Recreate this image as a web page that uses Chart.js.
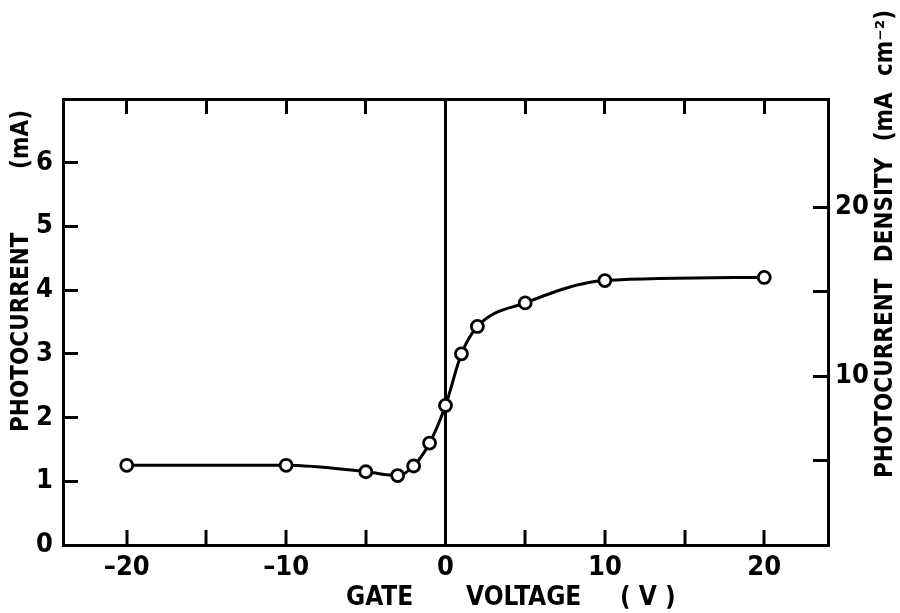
<!DOCTYPE html>
<html>
<head>
<meta charset="utf-8">
<script src="https://cdn.jsdelivr.net/npm/chart.js@4.4.1/dist/chart.umd.min.js"></script>
<style>
  body { margin: 0; background: #fff; }
  #box { width: 900px; height: 613px; }
</style>
</head>
<body>
<div id="box"><canvas id="photo_canvas" width="900" height="613"></canvas></div>
<script>
// data

const gateVoltage = [-20, -10, -5, -3, -2, -1, 0, 1, 2, 5, 10, 20];
const photocurrent = [1.25, 1.25, 1.15, 1.09, 1.24, 1.60, 2.19, 3.00, 3.43, 3.80, 4.15, 4.20];

const voltageTicks = [-20, -15, -10, -5, 0, 5, 10, 15, 20];
const voltageLabels = [-20, -10, 0, 10, 20];
const currentTicks = [0, 1, 2, 3, 4, 5, 6];
const densityTicks = [5, 10, 15, 20];
const densityLabels = [10, 20];

const fontFamily = "'Liberation Sans Narrow', 'DejaVu Sans Condensed', sans-serif";
const tickFont = { family: fontFamily, size: 27, weight: 'bold' };
const titleFont = "bold 24px " + fontFamily;
const bottomTitleFont = "bold 26px " + fontFamily;

function setTicks(list) {
  return function (axis) {
    axis.ticks = list.map(v => ({ value: v }));
  };
}

// inward tick marks, black border, no grid
function axisGrid(extra) {
  return Object.assign({
    drawOnChartArea: false,
    drawTicks: true,
    tickLength: -15,
    tickWidth: 3,
    tickColor: '#000',
    color: '#000',
    lineWidth: 3,
  }, extra || {});
}

const axisBorder = { display: true, color: '#000', width: 3 };

// text fitted to the width of the original lettering, extra room goes between words
function fittedText(ctx, text, cx, cy, width, angle) {
  ctx.save();
  ctx.translate(cx, cy);
  ctx.rotate(angle);
  ctx.wordSpacing = '0px';
  let w = ctx.measureText(text).width;
  let gaps = text.split(' ').length - 1;
  if (w < width && gaps > 0) {
    ctx.wordSpacing = ((width - w) / gaps) + 'px';
  }
  ctx.textAlign = 'left';
  ctx.fillText(text, -width / 2, 0, width);
  ctx.restore();
}

// axis titles placed like the original lettering
const titlePlugin = {
  id: 'titles',
  afterDraw(chart) {
    const ctx = chart.ctx;
    ctx.save();
    ctx.fillStyle = '#000';
    ctx.textBaseline = 'middle';

    // bottom title, word by word
    ctx.font = bottomTitleFont;
    ctx.textAlign = 'left';
    ctx.fillText('GATE', 346, 598);
    ctx.fillText('VOLTAGE', 466, 598);
    ctx.fillText('( V )', 620, 598);

    ctx.font = titleFont;
    fittedText(ctx, 'PHOTOCURRENT (mA)', 22, 271, 322, -Math.PI / 2);
    fittedText(ctx, 'PHOTOCURRENT DENSITY (mA cm\u207B\u00B2)', 886, 244, 468, -Math.PI / 2);

    ctx.restore();
  }
};

const photo_ctx = document.getElementById('photo_canvas').getContext('2d');
const photo_chart = new Chart(photo_ctx, {
  type: 'line',
  data: {
    datasets: [
      {
        data: gateVoltage.map((v, i) => ({ x: v, y: photocurrent[i] })),
        borderColor: '#000',
        borderWidth: 3,
        cubicInterpolationMode: 'monotone',
        fill: false,
        pointRadius: 6,
        pointBorderWidth: 2.8,
        pointBackgroundColor: '#fff',
        pointBorderColor: '#000',
        xAxisID: 'x',
        yAxisID: 'y',
      },
    ],
  },
  options: {
    responsive: false,
    animation: false,
    layout: { padding: 0 },
    plugins: {
      legend: { display: false },
      tooltip: { enabled: false },
    },
    scales: {
      x: {
        type: 'linear',
        position: 'bottom',
        min: -24,
        max: 24,
        afterBuildTicks: setTicks(voltageTicks),
        afterFit: s => { s.height = 68; },
        ticks: {
          color: '#000',
          font: tickFont,
          padding: 22,
          maxRotation: 0,
          autoSkip: false,
          callback: v => voltageLabels.includes(v) ? String(v).replace('-', '\u2013') : '',
        },
        grid: axisGrid({
          drawOnChartArea: true,
          color: ctx => ctx.tick && ctx.tick.value === 0 ? '#000' : 'rgba(0,0,0,0)',
          lineWidth: ctx => ctx.tick && ctx.tick.value === 0 ? 3 : 0,
        }),
        border: axisBorder,
      },
      x2: {
        type: 'linear',
        position: 'top',
        min: -24,
        max: 24,
        afterBuildTicks: setTicks(voltageTicks),
        afterFit: s => { s.height = 99; },
        ticks: { display: false },
        grid: axisGrid(),
        border: axisBorder,
      },
      y: {
        type: 'linear',
        position: 'left',
        min: 0,
        max: 7,
        afterBuildTicks: setTicks(currentTicks),
        afterFit: s => { s.width = 63; },
        ticks: {
          color: '#000',
          font: tickFont,
          padding: 25,
        },
        grid: axisGrid(),
        border: axisBorder,
      },
      y2: {
        type: 'linear',
        position: 'right',
        min: 0,
        max: 26.4,
        afterBuildTicks: setTicks(densityTicks),
        afterFit: s => { s.width = 72; },
        ticks: {
          color: '#000',
          font: tickFont,
          padding: 22,
          callback: v => densityLabels.includes(v) ? String(v) : '',
        },
        grid: axisGrid(),
        border: axisBorder,
      },
    },
  },
  plugins: [titlePlugin],
});
</script>
</body>
</html>
